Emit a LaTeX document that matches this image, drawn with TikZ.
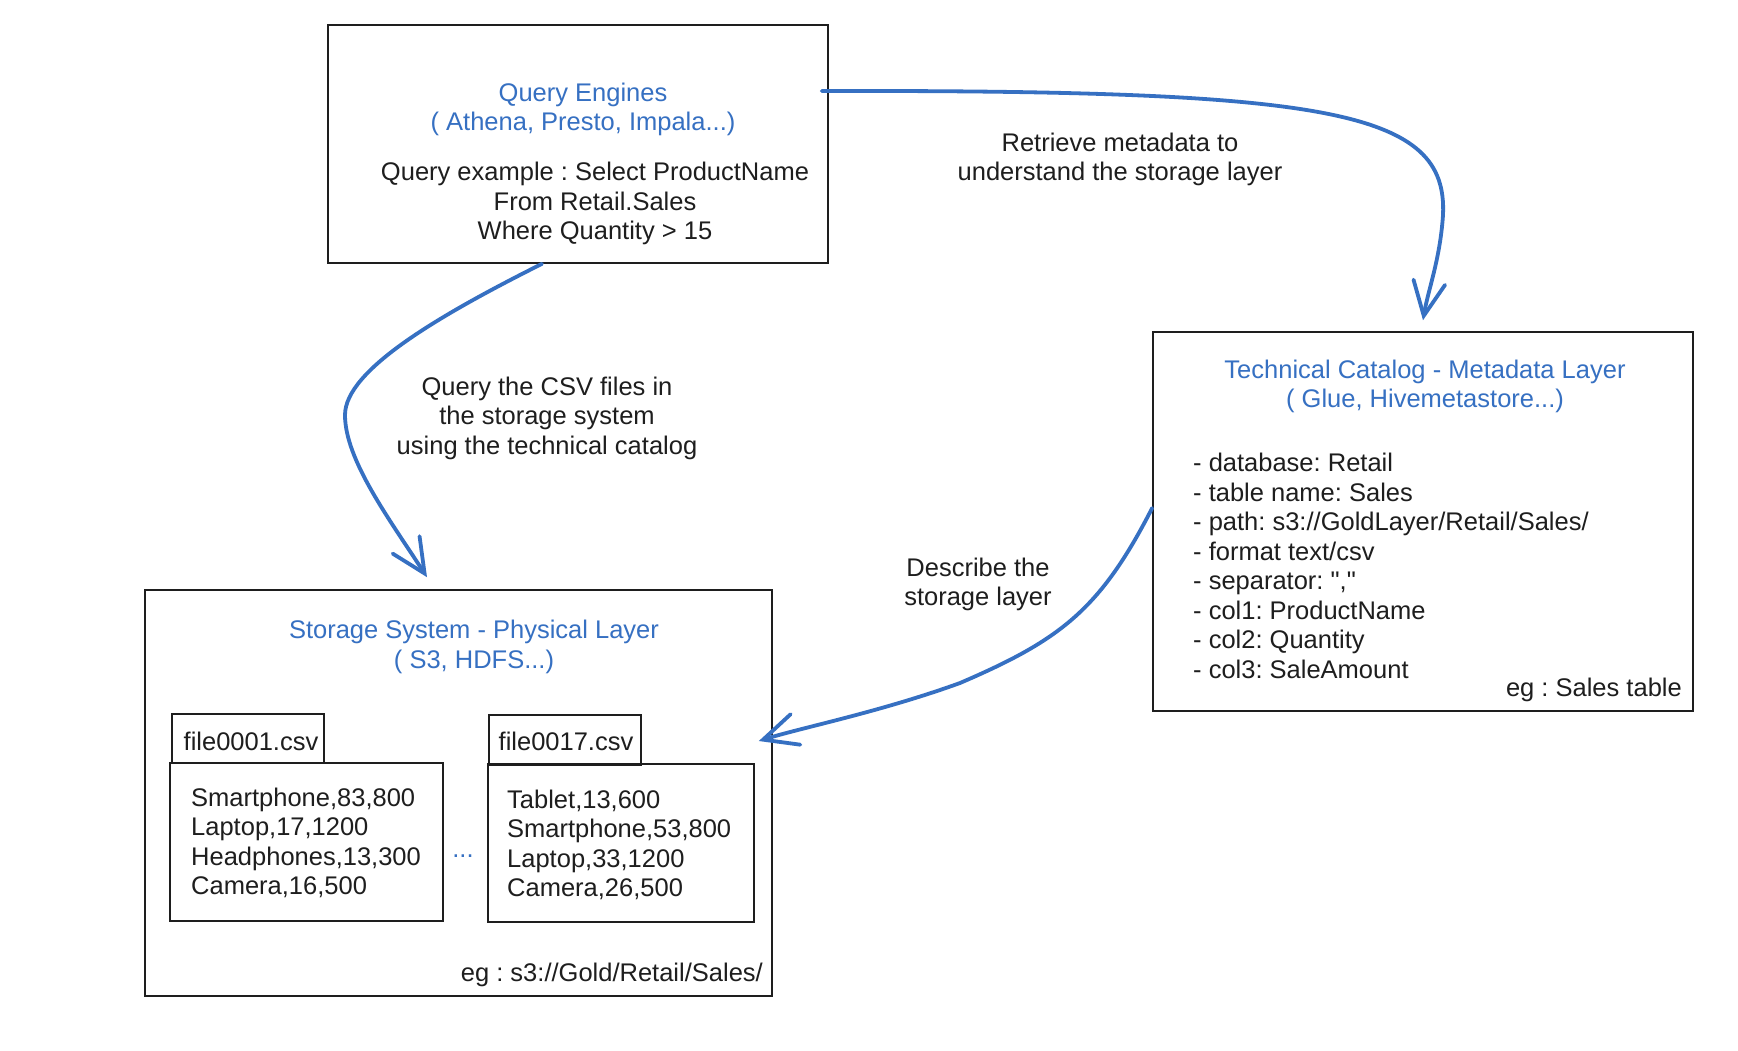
\documentclass[tikz,border=0pt]{standalone}
\usepackage{fontspec}
\setmainfont{Liberation Sans}[Ligatures=TeXOff]
\usetikzlibrary{arrows.meta}
\definecolor{ink}{HTML}{1E1E1E}
\definecolor{xblue}{RGB}{54,112,194}
\frenchspacing
\begin{document}
\begin{tikzpicture}[x=1pt,y=-1pt,
  sbox/.style={draw=ink, line width=1.6pt, rectangle, inner sep=0pt},
  txt/.style={font=\fontsize{25.5}{29.5}\selectfont\frenchspacing, text=ink, inner sep=0pt, align=center},
  ltxt/.style={txt, align=left},
  ttl/.style={txt, text=xblue},
  conn/.style={draw=xblue, line width=3.8pt, line cap=round, line join=round,
    -{Straight Barb[length=34pt, width=32pt, line cap=round]}}
]
\useasboundingbox (0,0) rectangle (1738,1050);
\fill[white] (0,0) rectangle (1738,1050);

% boxes
\node[sbox, minimum width=500pt, minimum height=238pt] (qe) at (578,144) {};
\node[sbox, minimum width=540pt, minimum height=379pt] (tc) at (1423,521.5) {};
\node[sbox, minimum width=627pt, minimum height=406pt] (ss) at (458.5,793) {};
\node[sbox, minimum width=152pt, minimum height=49pt] (tab1) at (248,738.5) {};
\node[sbox, minimum width=273pt, minimum height=158pt] (body1) at (306.5,842) {};
\node[sbox, minimum width=152pt, minimum height=50pt] (tab2) at (565,740) {};
\node[sbox, minimum width=266pt, minimum height=158pt] (body2) at (621,843) {};

% query engines texts
\node[ttl] (qetitle) at (583,109.5) {Query Engines\\( Athena, Presto, Impala...)};
\node[txt] (qebody) at (595,203.5) {Query example : Select ProductName\\From Retail.Sales\\Where Quantity > 15};

% technical catalog texts
\node[ttl] (tctitle) at (1425,386.5) {Technical Catalog - Metadata Layer\\( Glue, Hivemetastore...)};
\node[ltxt, anchor=west] (tclist) at (1193,566) {- database: Retail\\- table name: Sales\\- path: s3://GoldLayer/Retail/Sales/\\- format text/csv\\- separator: ","\\- col1: ProductName\\- col2: Quantity\\- col3: SaleAmount};
\node[txt, anchor=east] (tceg) at (1682,690) {eg : Sales table};

% storage texts
\node[ttl] (sstitle) at (474,647) {Storage System - Physical Layer\\( S3, HDFS...)};
\node[txt] (tab1t) at (251,741) {file0001.csv};
\node[txt] (tab2t) at (566,741) {file0017.csv};
\node[ltxt, anchor=west] (body1t) at (191,843) {Smartphone,83,800\\Laptop,17,1200\\Headphones,13,300\\Camera,16,500};
\node[ltxt, anchor=west] (body2t) at (507,845) {Tablet,13,600\\Smartphone,53,800\\Laptop,33,1200\\Camera,26,500};
\node[txt, text=xblue] (dots) at (463,856) {...};
\node[txt, anchor=east] (sseg) at (763,975) {eg : s3://Gold/Retail/Sales/};

% connector labels
\node[txt] (l1) at (1120,159.5) {Retrieve metadata to\\understand the storage layer};
\node[txt] (l2) at (547,418) {Query the CSV files in\\the storage system\\using the technical catalog};
\node[txt] (l3) at (978,584.5) {Describe the\\storage layer};

% connectors
\draw[conn] ([xshift=-7pt,yshift=53pt]qe.east) .. controls (1330,90) and (1448,110) .. (1443,215)
   .. controls (1440,260) and (1428,290) .. ([yshift=11pt]tc.north);
\draw[conn] ([xshift=-36pt]qe.south) .. controls (440,315) and (345,370) .. (345,415)
   .. controls (345,460) and (390,520) .. ([xshift=-31.5pt,yshift=12pt]ss.north);
\draw[conn] ([yshift=13.5pt]tc.west) .. controls (1100,610) and (1060,640) .. (960,683)
   .. controls (880,712) and (800,728) .. ([xshift=-14pt,yshift=52pt]ss.east);
\end{tikzpicture}
\end{document}
